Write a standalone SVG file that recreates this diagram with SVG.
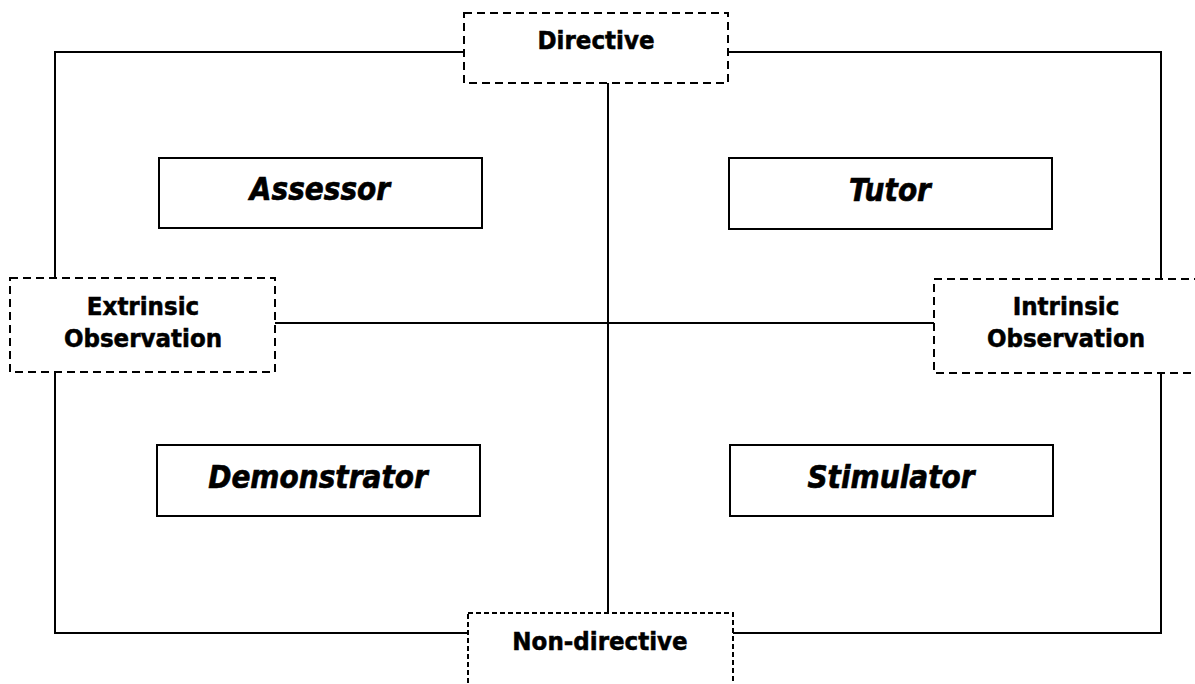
<svg xmlns="http://www.w3.org/2000/svg" width="1195" height="684" viewBox="0 0 1195 684">
  <style>
    .bg { fill: #ffffff; }
    .line { fill: none; stroke: #000; stroke-width: 2; }
    .dash { fill: #fff; stroke: #000; stroke-width: 2; stroke-dasharray: 8 5; }
    .dash-fine { fill: #fff; stroke: #000; stroke-width: 2; stroke-dasharray: 5 3; }
    .role { fill: #fff; stroke: #000; stroke-width: 2; }
    .axis-label { font-family: "DejaVu Sans", Verdana, sans-serif; font-weight: bold; font-size: 23px; fill: #000; stroke: #000; stroke-width: 0.5; text-anchor: middle; }
    .role-label { font-family: "DejaVu Sans", Verdana, sans-serif; font-weight: bold; font-style: italic; font-size: 28px; fill: #000; stroke: #000; stroke-width: 0.6; text-anchor: middle; }
  </style>
  <rect class="bg" x="0" y="0" width="1195" height="684"/>

  <!-- frame and axes -->
  <g id="connectors">
    <polyline class="line" points="464,52 55,52 55,278"/>
    <polyline class="line" points="728,52 1161,52 1161,279"/>
    <polyline class="line" points="55,372 55,633 468,633"/>
    <polyline class="line" points="1161,373 1161,633 733,633"/>
    <line class="line" x1="608" y1="83" x2="608" y2="613"/>
    <line class="line" x1="275" y1="323" x2="934" y2="323"/>
  </g>

  <g id="directive">
    <rect class="dash" x="464" y="13" width="264" height="70"/>
    <text class="axis-label" transform="translate(596 49) scale(1 1.06)">Directive</text>
  </g>

  <g id="non-directive">
    <rect class="dash-fine" x="468" y="613" width="265" height="90"/>
    <text class="axis-label" transform="translate(600 650) scale(1 1.06)">Non-directive</text>
  </g>

  <g id="extrinsic">
    <rect class="dash" x="10" y="278" width="265" height="94"/>
    <text class="axis-label" transform="translate(143 315) scale(1 1.06)">Extrinsic</text>
    <text class="axis-label" transform="translate(143 347) scale(1 1.06)">Observation</text>
  </g>

  <g id="intrinsic">
    <rect class="dash" x="934" y="279" width="270" height="94"/>
    <text class="axis-label" transform="translate(1066 315) scale(1 1.06)">Intrinsic</text>
    <text class="axis-label" transform="translate(1066 347) scale(1 1.06)">Observation</text>
  </g>

  <g id="assessor">
    <rect class="role" x="159" y="158" width="323" height="70"/>
    <text class="role-label" transform="translate(320 200) scale(1 1.12)">Assessor</text>
  </g>

  <g id="tutor">
    <rect class="role" x="729" y="158" width="323" height="71"/>
    <text class="role-label" transform="translate(890 201) scale(1 1.12)">Tutor</text>
  </g>

  <g id="demonstrator">
    <rect class="role" x="157" y="445" width="323" height="71"/>
    <text class="role-label" transform="translate(318 488) scale(1 1.12)">Demonstrator</text>
  </g>

  <g id="stimulator">
    <rect class="role" x="730" y="445" width="323" height="71"/>
    <text class="role-label" transform="translate(891 488) scale(1 1.12)">Stimulator</text>
  </g>
</svg>
